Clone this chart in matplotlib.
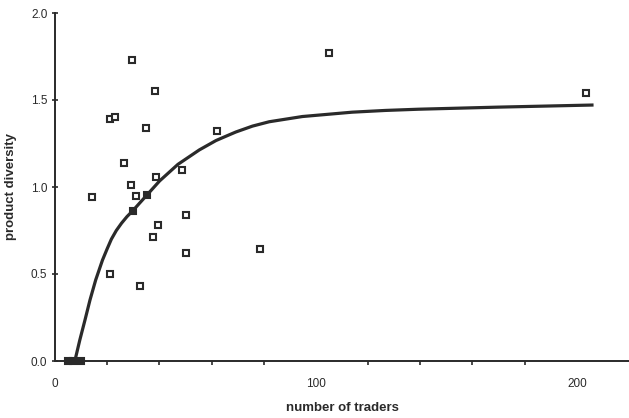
import numpy as np
import matplotlib.pyplot as plt

plt.rcParams['font.family'] = ['Liberation Sans', 'DejaVu Sans']

# observed points (open squares)
traders = [14, 29.5, 38.4, 20.9, 22.9, 34.9, 62.2, 26.6, 48.5, 29.1, 38.8,
           30.9, 50.1, 39.4, 37.5, 50.3, 78.4, 21.0, 32.6, 105, 203.4]
diversity = [0.94, 1.73, 1.55, 1.39, 1.40, 1.34, 1.32, 1.14, 1.10, 1.01, 1.06,
             0.95, 0.84, 0.78, 0.71, 0.62, 0.645, 0.50, 0.43, 1.77, 1.54]

# points drawn filled (under the curve / on the axis)
traders_f = [5, 7, 10, 30.0, 35.1]
diversity_f = [0, 0, 0, 0.86, 0.952]

# fitted curve
curve_x = [7.6, 9.5, 11.5, 13.4, 15.6, 18.2, 20.0, 21.6, 23.5, 25.5, 27.6,
           29.9, 32.4, 35.0, 40.1, 47.1, 55.3, 61.7, 66.8, 69.3, 75.7, 82.1,
           94.8, 113.9, 126.6, 139.3, 169.8, 205.8]
curve_y = [0.0, 0.12, 0.236, 0.35, 0.466, 0.58, 0.645, 0.70, 0.75, 0.792,
           0.83, 0.865, 0.907, 0.95, 1.035, 1.13, 1.213, 1.267, 1.30, 1.316,
           1.35, 1.375, 1.405, 1.43, 1.44, 1.447, 1.459, 1.471]

fig = plt.figure(figsize=(6.29, 4.18), dpi=100)
ax = fig.add_axes([55 / 629, 57 / 418, 1 - 55 / 629, (361 - 13) / 418])

ink = '#2a2a2a'
ax.plot(curve_x, curve_y, color=ink, lw=2.3, zorder=2,
        solid_joinstyle='round')
ax.plot(traders, diversity, linestyle='none', marker='s', ms=4.6,
        mfc='white', mec=ink, mew=1.5, zorder=3)
ax.plot(traders_f, diversity_f, linestyle='none', marker='s', ms=4.6,
        mfc=ink, mec=ink, mew=1.5, zorder=3, clip_on=False)

ax.set_xlim(0, 220)
ax.set_ylim(0, 2.0)
ax.spines['top'].set_visible(False)
ax.spines['right'].set_visible(False)
for s in ('left', 'bottom'):
    ax.spines[s].set_color(ink)
    ax.spines[s].set_linewidth(1.4)

ax.set_xticks([0, 100, 200])
ax.set_xticks(np.arange(20, 220, 20), minor=True)
ax.set_yticks([0.0, 0.5, 1.0, 1.5, 2.0])
ax.set_yticklabels(['0.0', '0.5', '1.0', '1.5', '2.0'])
ax.tick_params(axis='x', which='major', length=0, pad=12, labelsize=8.5,
               colors=ink)
ax.tick_params(axis='x', which='minor', direction='out', length=3,
               width=1.2, color=ink)
ax.tick_params(axis='y', direction='inout', length=5, width=1.2,
               pad=3, labelsize=8.5, colors=ink)

ax.set_xlabel('number of traders', fontsize=9.5, fontweight='bold',
              color=ink, labelpad=9)
ax.set_ylabel('product diversity', fontsize=9.5, fontweight='bold',
              color=ink, labelpad=10)

fig.savefig('out.png', dpi=100)
